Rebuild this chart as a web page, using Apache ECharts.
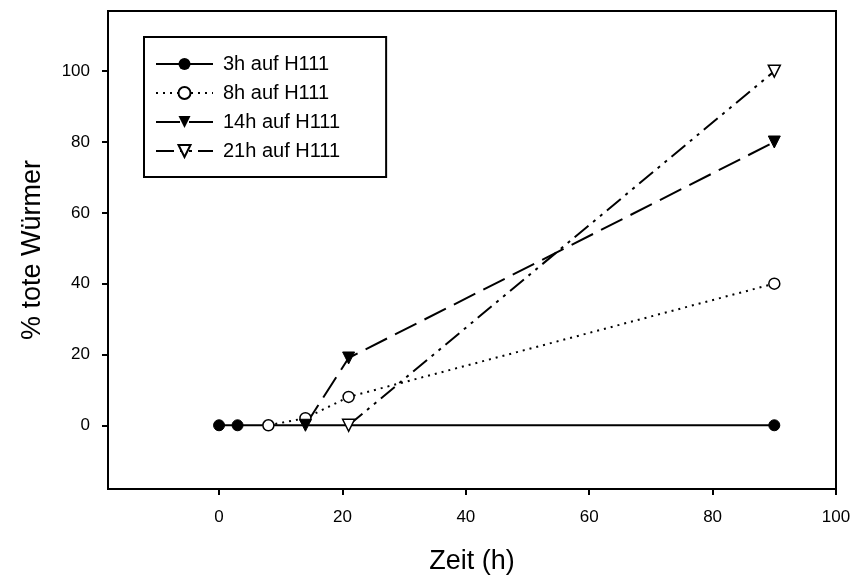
<!DOCTYPE html>
<html lang="de">
<head>
  <meta http-equiv="Content-Type" content="text/html; charset=UTF-8">
  <title>% tote Würmer</title>
  <style>
    html, body {
      padding: 0;
      margin: 0;
      background: #fff;
    }
    #myChart {
      width: 856px;
      height: 578px;
    }
  </style>
</head>
<body>
  <div id="myChart"></div>
  <script src="https://cdn.jsdelivr.net/npm/echarts@6/dist/echarts.min.js"></script>
  <script>
    const myChart = echarts.init(document.getElementById('myChart'));

    // Daten
    const seriesNames = ['3h auf H111', '8h auf H111', '14h auf H111', '21h auf H111'];
    const data3h = [[0, 0], [3, 0], [90, 0]];
    const data8h = [[8, 0], [14, 2], [21, 8], [90, 40]];
    const data14h = [[14, 0], [21, 19], [90, 80]];
    const data21h = [[21, 0], [90, 100]];
    const xTicks = [0, 20, 40, 60, 80, 100];
    const yTicks = [0, 20, 40, 60, 80, 100];

    const font = '"Liberation Sans", Arial, sans-serif';

    const option = {
      backgroundColor: '#fff',
      animation: false,
      grid: {
        left: 108,
        right: 20,
        top: 11,
        bottom: 89,
        show: true,
        borderColor: '#000',
        borderWidth: 2,
        outerBoundsMode: 'none'
      },
      legend: {
        orient: 'vertical',
        left: 144,
        top: 37,
        padding: [17, 46, 16, 11],
        itemWidth: 57,
        itemHeight: 15,
        itemGap: 9,
        borderColor: '#000',
        borderWidth: 2,
        textStyle: {
          fontFamily: font,
          fontSize: 20,
          color: '#000',
          padding: [0, 0, 0, 5]
        },
        data: seriesNames
      },
      xAxis: {
        type: 'value',
        min: -18,
        max: 100,
        name: 'Zeit (h)',
        nameLocation: 'middle',
        nameGap: 59,
        nameTextStyle: { fontFamily: font, fontSize: 27, color: '#000' },
        splitLine: { show: false },
        axisLine: { onZero: false, lineStyle: { color: '#000', width: 2 } },
        axisTick: { customValues: xTicks, length: 6, lineStyle: { color: '#000', width: 2 } },
        axisLabel: { customValues: xTicks, margin: 20, fontFamily: font, fontSize: 17, color: '#000' }
      },
      yAxis: {
        type: 'value',
        min: -18,
        max: 117,
        name: '% tote Würmer',
        nameLocation: 'middle',
        nameGap: 62,
        nameTextStyle: { fontFamily: font, fontSize: 27, color: '#000' },
        splitLine: { show: false },
        axisLine: { onZero: false, lineStyle: { color: '#000', width: 2 } },
        axisTick: { customValues: yTicks, length: 6, lineStyle: { color: '#000', width: 2 } },
        axisLabel: { customValues: yTicks, margin: 18, fontFamily: font, fontSize: 17, color: '#000' }
      },
      series: [{
        name: seriesNames[0],
        type: 'line',
        data: data3h,
        symbol: 'circle',
        symbolSize: 11,
        itemStyle: { color: '#000', borderColor: '#000' },
        lineStyle: { color: '#000', width: 2, type: 'solid' }
      }, {
        name: seriesNames[1],
        type: 'line',
        data: data8h,
        symbol: 'circle',
        symbolSize: 11,
        itemStyle: { color: '#fff', borderColor: '#000', borderWidth: 1.5 },
        lineStyle: { color: '#000', width: 2, type: [2, 5] }
      }, {
        name: seriesNames[2],
        type: 'line',
        data: data14h,
        symbol: 'triangle',
        symbolRotate: 180,
        symbolSize: 12,
        itemStyle: { color: '#000', borderColor: '#000' },
        lineStyle: { color: '#000', width: 2, type: [24, 9] }
      }, {
        name: seriesNames[3],
        type: 'line',
        data: data21h,
        symbol: 'triangle',
        symbolRotate: 180,
        symbolSize: 12,
        itemStyle: { color: '#fff', borderColor: '#000', borderWidth: 1.5 },
        lineStyle: { color: '#000', width: 2, type: [18, 6, 3, 6, 3, 6] }
      }]
    };
    myChart.setOption(option);
  </script>
</body>
</html>
